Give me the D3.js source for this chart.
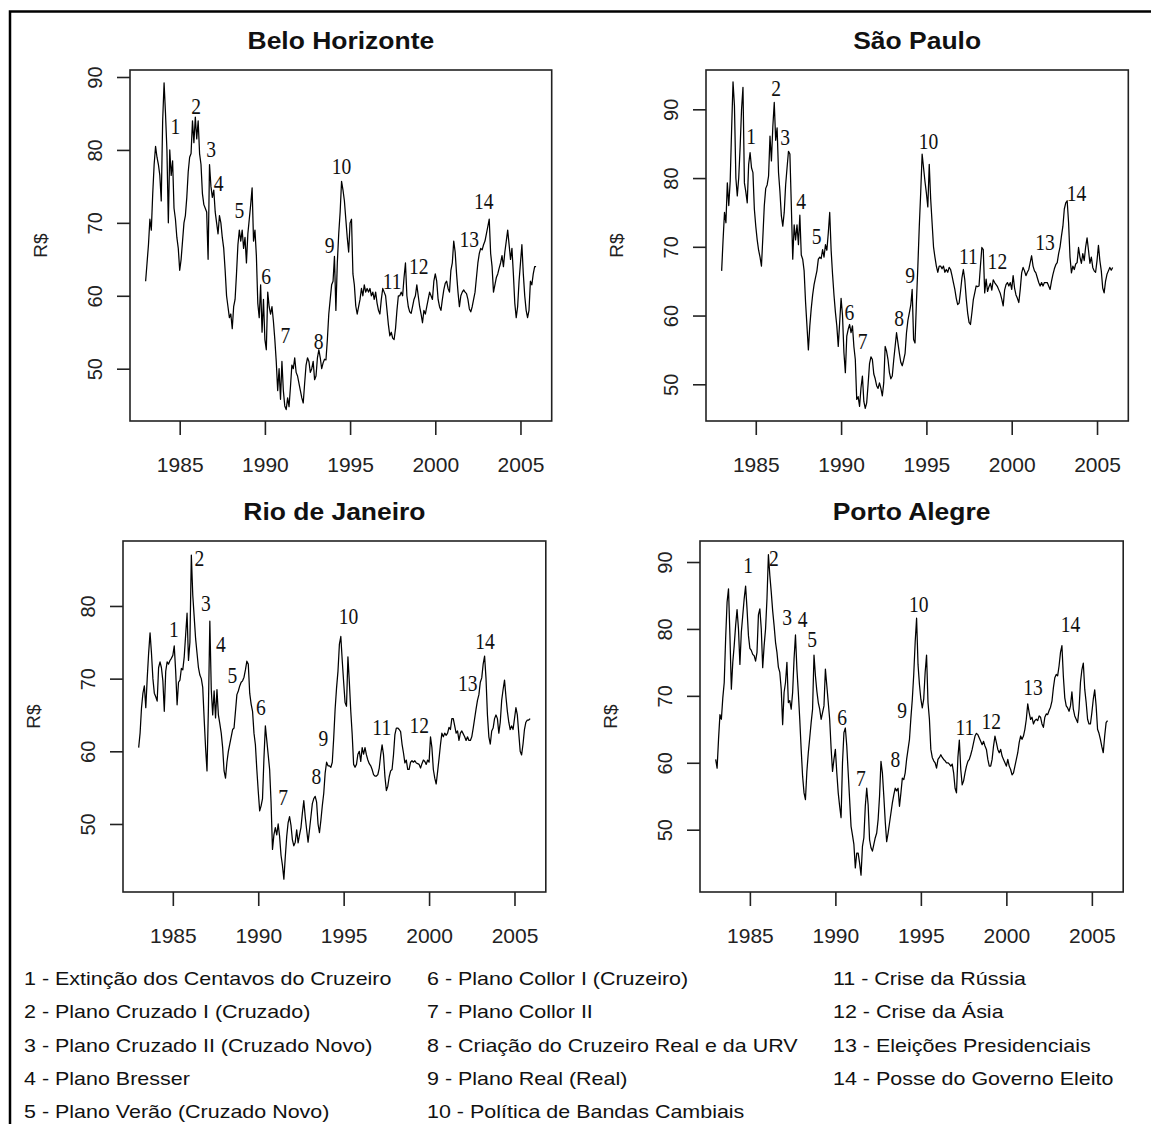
<!DOCTYPE html>
<html><head><meta charset="utf-8">
<script src="https://cdn.jsdelivr.net/npm/d3@7"></script>
<style>
html,body{margin:0;padding:0;background:#fff;}
svg{display:block;}
</style></head><body>
<svg id="chart" width="1151" height="1124"></svg>
<script>
// ---------- DATA ----------
const startYear = 1983; // monthly series, Jan 1983 .. Dec 2005
const xTicks = [1985, 1990, 1995, 2000, 2005];
const yTicks = [50, 60, 70, 80, 90];
const eventLabels = ["1","2","3","4","5","6","7","8","9","10","11","12","13","14"];

const beloHorizonte = [
62,64.5,67,70.5,69,74,78,80.5,79,78,76.5,73,
84,89.2,85,80,70,80,76.5,78.5,72,70.5,68,66.5,
63.5,65,67.5,70,71,73.5,77,79,79.5,84,81,84.5,
81.5,84,79.5,78,74,72.5,72,71.5,65,78,75,73.5,
74.5,71.5,70,68.5,71,70,68,66.5,63.5,60,58.5,57,
57.5,55.5,58.5,59.5,63,67,69,67.5,69,66.5,68,64.5,
68.5,70.5,72.5,74.8,67.5,69,65.5,59,57,61.5,55,59.5,
54,52.6,60.5,58.5,57.5,58.5,56.5,54,51,47,50,45.8,
51,47,44.9,44.4,46,44.8,47.5,50.5,50,51.5,49.5,49,
48,47,46,45.3,48,50.5,51.5,51,49.5,50,51,48.5,
49,51.5,52.6,51.5,50,50.8,51.3,51.2,54,57.5,59.5,61.5,
62,65.4,58,64.5,68.5,71.5,75.7,74.5,73,70.5,68,66,
70,70.5,63,61.5,58.6,57.5,58.5,59.5,61,60,61.5,60.5,
61,60.5,61,60,60.5,59.5,60.5,59,58,57.5,59.5,61,
60.5,60,58,56,54.5,55,54.2,54,55.5,58,60,60,
60.5,60,62.5,64.5,60,58.5,57.8,57.6,58.5,59.5,60,61.5,
60,58.5,57.5,56.3,58,57.5,58.5,59.5,60.5,60,59.5,62,
63,62,59.5,58.5,58,59.5,60.8,61.7,62,61,60.5,63.5,
64.5,67.5,66,63,60.5,58.5,60,60.5,60.8,60.5,60.3,59.5,
58.2,57.8,58.5,59.5,60.5,62.5,64.5,65.8,66.5,66.3,67,67.5,
68.5,69.5,70.5,65.8,64,60.5,61.5,62.5,63,63.8,64.5,65.5,
64,66,67.5,69,67,65,66.5,63,59,57,58.5,62,
64.5,67,63,60,58,57,58,62,61.5,63,64,64
];

const saoPaulo = [
66.5,71,75,73.5,79.3,76,79.5,87,94,90.5,80,77.4,
80,84.5,90,93.2,79.3,78,76.4,82,83.7,81.5,80.8,75.5,
73,71,69.5,68.5,67.2,71.5,76,78.5,79,80.3,86.1,82.5,
87.5,91,85.5,87.3,80.8,78,74.5,73,75,79,81.5,83.9,
83.5,76,68.2,73.2,71,73.2,70.3,74.6,68.8,68.2,66.5,62,
58.5,55,58.5,61,63,64.5,65.5,66.5,68.2,68.5,68.3,69.6,
68.5,70.3,69.5,72,75,69.5,66,63,60.5,58.5,55.5,59,
62.5,60,54.6,51.7,57,58,58.7,57.5,58.5,55.5,53.6,47.8,
48.2,46.8,49.5,51.2,47.5,46.5,47.3,50,53,54,53.6,51.5,
50.8,49.8,49.4,50.2,49.4,48.3,50.2,55.5,54.8,53.6,51.7,50.8,
51.2,53.5,55.5,57.5,56,54.5,53.2,52.7,53.5,54.5,57.5,59.3,
60.4,61.5,63.8,56.5,56,62,67.2,73,77.9,83.5,81.5,79.5,
77.8,75.8,82,77,73.5,70,68.5,67.2,66.3,67.2,67.2,66.8,
67.2,66.3,66.7,66.3,67,66.7,65.8,64.8,63.8,62.5,61.6,61.8,
63.5,65.5,66.7,65.2,62.5,60.4,59,58.7,60.4,62.3,63.3,64.3,
64.2,64.3,67.2,69.9,69.6,63.3,65.3,63.5,64.2,64.7,63.7,65.2,
64.8,64.5,64.2,63.7,63.2,62.4,61.4,63.7,64.5,64.8,64.3,64.8,
63.8,65.8,64,63,62.5,61.9,63.8,66.2,67,66.5,65.8,66.3,
66.7,67.7,68.7,67.2,66.5,66.2,65.5,64.8,64.3,64.8,64.3,64.8,
64.8,64.8,64.3,63.8,65,66,66.8,67.4,67.7,69,70,71.6,
73,75.5,76.4,76.7,73.5,68.5,66.2,67.2,66.7,67.5,67.7,69.9,
68.5,67.6,69,68,70,71.3,69.5,67.6,68.5,67,66.5,66.3,
68,70.2,68,66.5,64,63.3,65,66,66.5,67,66.6,67
];

const rioDeJaneiro = [
60.5,62.5,66,68,69,66,70,73.5,76.3,73.5,70,68,
67.5,66.9,71.5,72.3,71.5,69.7,65.5,71,72.3,72,72.5,72.8,
73.2,74.5,71,66.4,69.5,69.8,71.4,71.2,73,76,79,72.5,
75,87,81.5,78.5,75.5,73.5,71.5,70.5,70,68.8,64.5,60.5,
57.3,66,77.9,68.5,65,68.3,64.6,68.5,65,63.8,62.5,60.5,
57.3,56.3,58.5,60,61,62,63,63.2,65.5,67.8,68.3,69,
69.5,69.7,70.2,71.2,72.4,72,68,66.5,65.5,62.5,60.9,57.5,
54.5,51.8,52.5,53.5,59,63.5,61.5,59.5,57.5,53,46.5,48.5,
49.5,48.5,50,48.3,45.7,44.3,42.4,45.5,48.3,50.2,51,49.8,
47.8,47,47.5,49.2,47.4,48.5,49.5,51.5,53.2,51,49.2,47.5,
49.2,51,52.8,53.5,53.8,53,50,48.8,50.5,52.5,54.2,57,
58.5,58,58,57.8,58.5,61.8,65.8,68.7,71,74.7,75.8,72.5,
69.5,66.7,66.2,73,69.5,65.5,62.3,58.2,57.8,58.2,59.6,60,
58.6,60.5,59.6,60.5,59.5,58.8,58.3,58,57.5,56.8,56.6,56.6,
56.8,57.7,59.5,60.9,59.5,56.5,54.6,55.2,56.5,57.3,57.5,59.5,
62.3,63.2,63.2,63,62.7,61,59.8,58.4,58.8,57.5,57.5,58.5,
58.7,58.5,58.7,58.4,58.3,58.2,57.7,58.3,58.8,58.6,58.2,58.8,
58.5,62,60.5,57.5,56.3,55.5,57.2,59,60.9,62.5,62,62.5,
62.2,62.5,63.3,63,64.5,64.5,63.5,62.5,62.8,61.5,62.5,62.8,
62.4,62,61.5,62,61.5,61.5,62,63.2,64.5,65.8,67,67.8,
69.5,70.1,72,73.1,70,65,62,61,62.8,63.2,64.5,65,
64.5,62.5,64,67,68.5,69.8,67.5,65.5,64,63,63.5,63,
64.5,66,65,62.5,60,59.5,61,63,64,64.3,64.3,64.5
];

const portoAlegre = [
60.5,59.2,63.5,67.2,66.5,69.7,72,78.6,84,86,79,71,
75,77.5,80.5,82.9,80,74.7,79.5,82,84.5,86.4,83,79,
77.1,76.8,76.2,76,75.2,76.5,82.1,83,80,74.2,77.5,80,
84.5,91.1,88,85.5,82.7,80.5,78,76.5,74.3,73.5,71,65.7,
70.5,72,75,69,69.3,68,70.5,75.5,79.1,74,70.5,66.5,
62,58,55.5,54.5,58.7,61.5,63.7,66,68,76.1,73,70.7,
69,68,66.5,67.5,68.5,74,71.5,69,66.5,62.2,58.7,60.5,
62,58.5,55.5,53.5,51.8,60,64.5,65.2,62.5,58.5,54.5,50.5,
49.2,47.8,44.3,46.5,46.5,45,43.2,47.5,48.8,53.5,56.2,53.7,
48.5,47.3,46.8,47.8,48.8,49.5,51.5,55,60.2,58.5,55,51.2,
48.2,49.5,51,52.5,54,55.2,56.2,55.8,56.2,53.5,55.5,57.7,
57.5,58.5,60.5,62,63.5,66.7,69.5,73.2,78,81.6,74.7,71.7,
69.5,68.2,69.5,73.5,76.1,69,66.5,62,60.8,60.3,60,59.2,
60.5,60.8,61.2,60.8,60.5,60.3,60,60,59.8,59.5,59.8,58.5,
56.2,55.5,60.8,63.4,59,56.7,57.3,58.5,59.5,60.2,60.5,61.2,
62,63,64,64.4,64.2,63.7,63.2,62.7,63.2,62.5,62,60.5,
59.5,59.5,60.5,62.5,64,63,62,61.5,62,61,60.5,60,
59.5,60.5,59.5,59,58.2,58.5,59.5,60.5,61.5,63,64,63.5,
64,65,66.5,68.8,67.5,66.5,66.8,65.8,66.3,66.5,66.3,67,
66.8,65.8,65.3,66.8,67.3,67.2,67.8,68.3,69.2,71.2,72.7,73.2,
73,74.5,76.5,77.5,72.9,69.7,68.5,68.2,67.7,68.5,70.6,68,
67,66.5,66,68,72,73.9,74.9,71,69,66.5,65.8,65.8,
67.5,69.5,70.9,68.5,65,64.4,63.5,62.4,61.5,64,66,66.3
];

// event label anchors (decimal year, R$) per city
const beloEventYear  = [1984.75,1985.96,1986.84,1987.29,1988.5,1990.07,1991.2,1993.16,1993.8,1994.49,1997.47,1999.03,2002.0,2002.85];
const beloEventValue = [83.3,86.1,80.2,75.5,71.8,62.7,54.6,53.8,67,77.9,62,64.1,67.8,73];
const spEventYear    = [1984.73,1986.19,1986.72,1987.66,1988.57,1990.49,1991.27,1993.4,1994.04,1995.12,1997.46,1999.16,2001.95,2003.8];
const spEventValue   = [86.1,93.2,86,76.7,71.6,60.5,56.4,59.7,66,85.4,68.7,68,70.8,77.8];
const rioEventYear   = [1985.06,1986.56,1986.93,1987.81,1988.49,1990.15,1991.46,1993.41,1993.82,1995.28,1997.23,1999.42,2002.27,2003.28];
const rioEventValue  = [76.9,86.6,80.4,74.8,70.6,66.1,53.8,56.6,61.9,78.6,63.4,63.7,69.5,75.2];
const poaEventYear   = [1984.9,1986.4,1987.18,1988.08,1988.64,1990.4,1991.49,1993.51,1993.9,1994.88,1997.57,1999.12,2001.56,2003.75];
const poaEventValue  = [89.6,90.6,81.8,81.5,78.6,66.9,57.7,60.6,67.9,83.7,65.4,66.3,71.4,80.8];

const legendCol1 = ["1 - Extinção dos Centavos do Cruzeiro","2 - Plano Cruzado I (Cruzado)","3 - Plano Cruzado II (Cruzado Novo)","4 - Plano Bresser","5 - Plano Verão (Cruzado Novo)"];
const legendCol2 = ["6 - Plano Collor I (Cruzeiro)","7 - Plano Collor II","8 - Criação do Cruzeiro Real e da URV","9 - Plano Real (Real)","10 - Política de Bandas Cambiais"];
const legendCol3 = ["11 - Crise da Rússia","12 - Crise da Ásia","13 - Eleições Presidenciais","14 - Posse do Governo Eleito"];

// ---------- LAYOUT ----------
const SANS = "'Liberation Sans', Arial, Helvetica, sans-serif";
const SERIF = "'Liberation Serif', 'Times New Roman', serif";
const xDomain = [1982.083, 2006.833];
const panels = [
  {title:"Belo Horizonte", data:beloHorizonte, ey:beloEventYear, ev:beloEventValue, box:{x0:130,x1:551.7,y0:70,y1:421}, yDomain:[42.83,90.96]},
  {title:"São Paulo", data:saoPaulo, ey:spEventYear, ev:spEventValue, box:{x0:706,x1:1128.3,y0:70,y1:421}, yDomain:[44.66,95.72]},
  {title:"Rio de Janeiro", data:rioDeJaneiro, ey:rioEventYear, ev:rioEventValue, box:{x0:123,x1:545.8,y0:541,y1:892}, yDomain:[40.64,88.94]},
  {title:"Porto Alegre", data:portoAlegre, ey:poaEventYear, ev:poaEventValue, box:{x0:700,x1:1123.2,y0:541,y1:892}, yDomain:[40.69,93.14]}
];

const svg = d3.select("#chart");
svg.append("rect").attr("width",1151).attr("height",1124).attr("fill","#fff");
// outer frame (continues past right and bottom edges)
svg.append("rect").attr("x",10).attr("y",11.5).attr("width",1400).attr("height",1400)
  .attr("fill","none").attr("stroke","#000").attr("stroke-width",2.5);

panels.forEach(p => {
  const b = p.box;
  const x = d3.scaleLinear().domain(xDomain).range([b.x0, b.x1]);
  const y = d3.scaleLinear().domain(p.yDomain).range([b.y1, b.y0]);
  const g = svg.append("g");

  const line = d3.line().x((d,i) => x(startYear + i/12)).y(d => y(d));
  g.append("path").datum(p.data).attr("d", line)
    .attr("fill","none").attr("stroke","#000").attr("stroke-width",1.25).attr("stroke-linejoin","round");

  g.append("rect").attr("x",b.x0).attr("y",b.y0).attr("width",b.x1-b.x0).attr("height",b.y1-b.y0)
    .attr("fill","none").attr("stroke","#222").attr("stroke-width",1.6);

  const xa = g.append("g").attr("transform",`translate(0,${b.y1})`)
    .call(d3.axisBottom(x).tickValues(xTicks).tickSize(14).tickFormat(d3.format("d")));
  xa.select(".domain").remove();
  xa.selectAll(".tick line").attr("stroke","#222").attr("stroke-width",1.6);
  xa.selectAll(".tick text").attr("y",51).attr("dy",null)
    .attr("font-family",SANS).attr("font-size",21).attr("fill","#222");

  const ya = g.append("g").attr("transform",`translate(${b.x0},0)`)
    .call(d3.axisLeft(y).tickValues(yTicks.filter(t => t >= p.yDomain[0] && t <= p.yDomain[1])).tickSize(13));
  ya.select(".domain").remove();
  ya.selectAll(".tick line").attr("stroke","#222").attr("stroke-width",1.6);
  ya.selectAll(".tick text").attr("x",0).attr("y",-28).attr("dy",null)
    .attr("transform","rotate(-90)").attr("text-anchor","middle")
    .attr("font-family",SANS).attr("font-size",20).attr("fill","#222");

  // y label
  g.append("text").attr("transform",`translate(${b.x0-83},${(b.y0+b.y1)/2}) rotate(-90)`)
    .attr("text-anchor","middle").attr("font-family",SANS).attr("font-size",19).attr("fill","#222").text("R$");

  // title
  g.append("text").attr("transform",`translate(${(b.x0+b.x1)/2},${b.y0-20.7}) scale(1.08,1)`)
    .attr("text-anchor","middle").attr("font-family",SANS).attr("font-weight","bold")
    .attr("font-size",24.5).attr("fill","#111").text(p.title);

  // event numbers
  eventLabels.forEach((lab,i) => {
    g.append("text").attr("transform",`translate(${x(p.ey[i])},${y(p.ev[i])}) scale(0.85,1)`)
      .attr("text-anchor","middle").attr("dy","0.36em")
      .attr("font-family",SERIF).attr("font-size",23).attr("fill","#111").text(lab);
  });
});

// legend
const legendCols = [{x:24, items:legendCol1},{x:427, items:legendCol2},{x:833, items:legendCol3}];
legendCols.forEach(c => {
  c.items.forEach((t,i) => {
    svg.append("text").attr("transform",`translate(${c.x},${985 + i*33.3}) scale(1.13,1)`)
      .attr("font-family",SANS).attr("font-size",19).attr("fill","#111").text(t);
  });
});
</script>
</body></html>
